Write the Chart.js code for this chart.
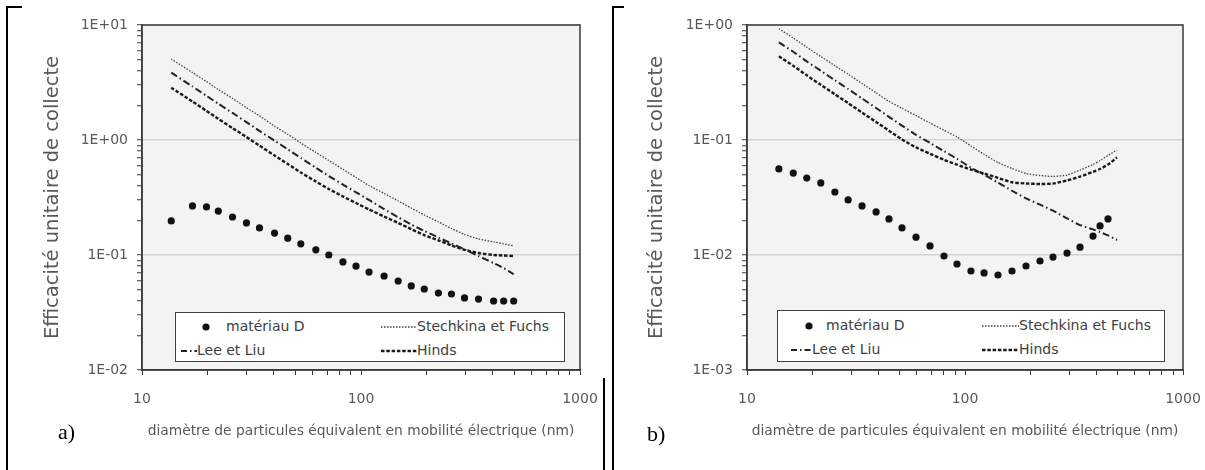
<!DOCTYPE html>
<html>
<head>
<meta charset="utf-8">
<title>Efficacité unitaire de collecte</title>
<script src="https://cdn.jsdelivr.net/npm/chart.js"></script>
<style>
  body { margin: 0; background: #fff; width: 1205px; height: 470px; position: relative; overflow: hidden; font-family: "DejaVu Sans", sans-serif; }
  canvas { position: absolute; }
  .rule { position: absolute; background: #000; }
  .panel-label { position: absolute; font-family: "Liberation Serif", serif; font-size: 22px; line-height: 22px; color: #000; }
  .legend { position: absolute; background: #fff; border: 1.5px solid #404040; box-sizing: border-box; font-size: 14px; color: #404040; }
  .legend span { position: absolute; white-space: nowrap; line-height: 16px; }
  .legend svg { position: absolute; overflow: visible; }
</style>
</head>
<body>
  <!-- cadres du tableau -->
  <div class="rule" style="left:6px;top:6px;width:2px;height:464px"></div>
  <div class="rule" style="left:6px;top:6px;width:16px;height:2px"></div>
  <div class="rule" style="left:603px;top:378px;width:1.5px;height:92px"></div>
  <div class="rule" style="left:612px;top:6px;width:2px;height:464px"></div>
  <div class="rule" style="left:612px;top:6px;width:12px;height:2px"></div>

  <canvas id="chartA" width="590" height="447" style="left:22px;top:8px"></canvas>
  <canvas id="chartB" width="575" height="447" style="left:627px;top:8px"></canvas>

  <div class="panel-label" style="left:58px;top:421px">a)</div>
  <div class="panel-label" style="left:647px;top:423px">b)</div>

  <div class="legend" style="left:175px;top:312px;width:390px;height:50px">
    <svg style="left:27px;top:11px" width="6" height="6"><circle cx="3" cy="3" r="3.6" fill="#111"/></svg>
    <span style="left:50px;top:5px">matériau D</span>
    <svg style="left:205px;top:13px" width="36" height="2"><line x1="0" y1="1" x2="36" y2="1" stroke="#444" stroke-width="1.3" stroke-dasharray="1.5 1.5"/></svg>
    <span style="left:241px;top:5px">Stechkina et Fuchs</span>
    <svg style="left:5px;top:37px" width="16" height="2"><line x1="0" y1="1" x2="16" y2="1" stroke="#222" stroke-width="2" stroke-dasharray="6 3 1.5 3"/></svg>
    <span style="left:21px;top:29px">Lee et Liu</span>
    <svg style="left:205px;top:37px" width="36" height="2"><line x1="0" y1="1" x2="36" y2="1" stroke="#1a1a1a" stroke-width="2.4" stroke-dasharray="3.5 1.8"/></svg>
    <span style="left:241px;top:29px">Hinds</span>
  </div>

  <div class="legend" style="left:777px;top:310px;width:388px;height:52px">
    <svg style="left:28px;top:12px" width="6" height="6"><circle cx="3" cy="3" r="3.6" fill="#111"/></svg>
    <span style="left:48px;top:6px">matériau D</span>
    <svg style="left:13px;top:38px" width="21" height="2"><line x1="0" y1="1" x2="21" y2="1" stroke="#222" stroke-width="2" stroke-dasharray="6 3 1.5 3"/></svg>
    <span style="left:34px;top:30px">Lee et Liu</span>
    <svg style="left:204px;top:14px" width="37" height="2"><line x1="0" y1="1" x2="37" y2="1" stroke="#444" stroke-width="1.3" stroke-dasharray="1.5 1.5"/></svg>
    <span style="left:241px;top:6px">Stechkina et Fuchs</span>
    <svg style="left:204px;top:38px" width="37" height="2"><line x1="0" y1="1" x2="37" y2="1" stroke="#1a1a1a" stroke-width="2.4" stroke-dasharray="3.5 1.8"/></svg>
    <span style="left:241px;top:30px">Hinds</span>
  </div>

<script>
  // figure a) : diamètre (nm) et efficacité unitaire
  const dpA = [13.6, 17.0, 19.7, 22.3, 25.9, 30.0, 34.4, 40.3, 46.3, 53.1, 62.2, 71.3, 82.7, 94.9, 108.8, 127.5, 147.8, 169.6, 194.5, 225.6, 258.8, 296.9, 344.1, 403.3, 448.1, 498.0];
  const materiauA = [0.198, 0.267, 0.262, 0.241, 0.214, 0.190, 0.172, 0.155, 0.140, 0.125, 0.111, 0.100, 0.087, 0.080, 0.071, 0.0657, 0.0594, 0.0538, 0.0506, 0.0467, 0.0458, 0.0423, 0.0414, 0.0398, 0.0398, 0.0398];
  const stechkinaA = [5.06, 3.86, 3.22, 2.75, 2.30, 1.91, 1.62, 1.32, 1.12, 0.942, 0.780, 0.663, 0.556, 0.472, 0.402, 0.343, 0.295, 0.256, 0.223, 0.194, 0.170, 0.151, 0.138, 0.130, 0.125, 0.120];
  const leeLiuA = [3.85, 2.92, 2.42, 2.07, 1.72, 1.43, 1.20, 0.986, 0.830, 0.699, 0.574, 0.486, 0.410, 0.351, 0.301, 0.251, 0.213, 0.184, 0.162, 0.142, 0.126, 0.112, 0.098, 0.085, 0.077, 0.068];
  const hindsA = [2.85, 2.16, 1.79, 1.53, 1.27, 1.06, 0.892, 0.733, 0.618, 0.522, 0.436, 0.375, 0.323, 0.283, 0.249, 0.216, 0.190, 0.168, 0.149, 0.134, 0.121, 0.111, 0.104, 0.100, 0.099, 0.098];

  // figure b)
  const dpB = [14.0, 16.3, 18.8, 21.8, 25.3, 29.1, 33.7, 39.1, 44.8, 51.4, 59.6, 69.1, 80.1, 91.9, 106.5, 122.3, 141.7, 164.3, 190.5, 220.8, 253.3, 293.8, 337.0, 386.6, 416.3, 452.9, 498.0];
  const materiauB = [0.0560, 0.0516, 0.0467, 0.0423, 0.0353, 0.0301, 0.0267, 0.0237, 0.0206, 0.0172, 0.0143, 0.0120, 0.0098, 0.00835, 0.00726, 0.00698, 0.0067, 0.00726, 0.00802, 0.00887, 0.0096, 0.0104, 0.0117, 0.0146, 0.0179, 0.0206, null];
  const stechkinaB = [0.929, 0.771, 0.641, 0.532, 0.443, 0.373, 0.310, 0.257, 0.2166, 0.1887, 0.1630, 0.1405, 0.1215, 0.1062, 0.0888, 0.0752, 0.0637, 0.0565, 0.0512, 0.0491, 0.0482, 0.0496, 0.0548, 0.0612, 0.0663, 0.0734, 0.0818];
  const leeLiuB = [0.707, 0.585, 0.483, 0.4005, 0.331, 0.2777, 0.2296, 0.1898, 0.1591, 0.1334, 0.1110, 0.0942, 0.0799, 0.0686, 0.0575, 0.0498, 0.0426, 0.0362, 0.0311, 0.0274, 0.0243, 0.0208, 0.0182, 0.0167, 0.0158, 0.0148, 0.0135];
  const hindsB = [0.534, 0.442, 0.365, 0.302, 0.2496, 0.2094, 0.1731, 0.1437, 0.1205, 0.1012, 0.0862, 0.0759, 0.0673, 0.0610, 0.0553, 0.0511, 0.0468, 0.0429, 0.0419, 0.0414, 0.0418, 0.0445, 0.0480, 0.0529, 0.0560, 0.0612, 0.0704];

  const xRange = [10, 1000];
  const yRangeA = [0.01, 10];
  const yRangeB = [0.001, 1];

  const xTitle = 'diamètre de particules équivalent en mobilité électrique (nm)';
  const yTitle = 'Efficacité unitaire de collecte';

  Chart.defaults.font.family = '"DejaVu Sans", sans-serif';

  function isDecade(v) {
    const e = Math.log10(v);
    return Math.abs(e - Math.round(e)) < 1e-6;
  }
  function expLabel(v) {
    const e = Math.round(Math.log10(v));
    return '1E' + (e < 0 ? '-' : '+') + String(Math.abs(e)).padStart(2, '0');
  }
  // graduations 1..9 dans chaque décade, comme Excel
  function logTicks(scale) {
    const lo = Math.round(Math.log10(scale.min)), hi = Math.round(Math.log10(scale.max));
    const ticks = [];
    for (let e = lo; e < hi; e++) {
      for (let m = 1; m < 10; m++) ticks.push({ value: parseFloat((m * Math.pow(10, e)).toPrecision(6)) });
    }
    ticks.push({ value: Math.pow(10, hi) });
    scale.ticks = ticks;
  }

  // fond gris de la zone de tracé + cadre
  const plotFrame = {
    id: 'plotFrame',
    beforeDraw(chart) {
      const a = chart.chartArea, ctx = chart.ctx;
      ctx.save();
      ctx.fillStyle = '#f3f3f3';
      ctx.fillRect(a.left, a.top, a.right - a.left, a.bottom - a.top);
      ctx.restore();
    },
    afterDraw(chart) {
      const a = chart.chartArea, ctx = chart.ctx;
      ctx.save();
      ctx.strokeStyle = '#3a3a3a';
      ctx.lineWidth = 1.5;
      ctx.strokeRect(a.left, a.top, a.right - a.left, a.bottom - a.top);
      ctx.restore();
    }
  };

  function makeChart(id, dp, mat, stech, lee, hinds, yRange, yTitlePad, padRight) {
    const pts = arr => dp.map((x, i) => ({ x: x, y: arr[i] }));
    return new Chart(document.getElementById(id), {
      type: 'line',
      data: {
        datasets: [
          { label: 'Stechkina et Fuchs', data: pts(stech), borderColor: '#444', borderWidth: 1.3, borderDash: [1.5, 1.5], pointRadius: 0, tension: 0.2 },
          { label: 'Lee et Liu', data: pts(lee), borderColor: '#222', borderWidth: 2, borderDash: [7, 3, 1.5, 3], pointRadius: 0, tension: 0.2 },
          { label: 'Hinds', data: pts(hinds), borderColor: '#1a1a1a', borderWidth: 2.4, borderDash: [3.5, 1.8], pointRadius: 0, tension: 0.2 },
          { label: 'matériau D', data: pts(mat), showLine: false, pointRadius: 3.6, pointBackgroundColor: '#111', pointBorderWidth: 0 }
        ]
      },
      options: {
        responsive: false,
        animation: false,
        events: [],
        layout: { padding: { top: 17, right: padRight, bottom: 0, left: 0 } },
        plugins: { legend: { display: false }, tooltip: { enabled: false } },
        scales: {
          x: {
            type: 'logarithmic', min: xRange[0], max: xRange[1],
            afterBuildTicks: logTicks,
            border: { color: '#3a3a3a', width: 1.5 },
            grid: { drawOnChartArea: false, tickLength: 5, tickColor: '#3a3a3a', tickWidth: 1 },
            ticks: { autoSkip: false, maxRotation: 0, padding: 16, color: '#595959', font: { size: 14 },
                     callback: v => isDecade(v) ? String(Math.round(v)) : '' },
            title: { display: true, text: xTitle, color: '#595959', font: { size: 13.8 }, padding: { top: 0, bottom: 15 } },
            afterFit: s => { s.height = 85; s.paddingLeft = 0; s.paddingRight = 0; }
          },
          y: {
            type: 'logarithmic', min: yRange[0], max: yRange[1],
            afterBuildTicks: logTicks,
            border: { color: '#3a3a3a', width: 1.5 },
            grid: { color: c => (c.tick && isDecade(c.tick.value)) ? '#d3d3d3' : 'rgba(0,0,0,0)', lineWidth: 1.5,
                    tickLength: 5, tickColor: '#3a3a3a', tickWidth: 1 },
            ticks: { autoSkip: false, padding: 9, color: '#595959', font: { size: 14 },
                     callback: v => isDecade(v) ? expLabel(v) : '' },
            title: { display: true, text: yTitle, color: '#595959', font: { size: 19.5 }, padding: { top: yTitlePad, bottom: 0 } },
            afterFit: s => { s.width = 120; s.paddingTop = 0; s.paddingBottom = 0; }
          }
        }
      },
      plugins: [plotFrame]
    });
  }

  makeChart('chartA', dpA, materiauA, stechkinaA, leeLiuA, hindsA, yRangeA, 19, 32);
  makeChart('chartB', dpB, materiauB, stechkinaB, leeLiuB, hindsB, yRangeB, 18, 19);
</script>
</body>
</html>
